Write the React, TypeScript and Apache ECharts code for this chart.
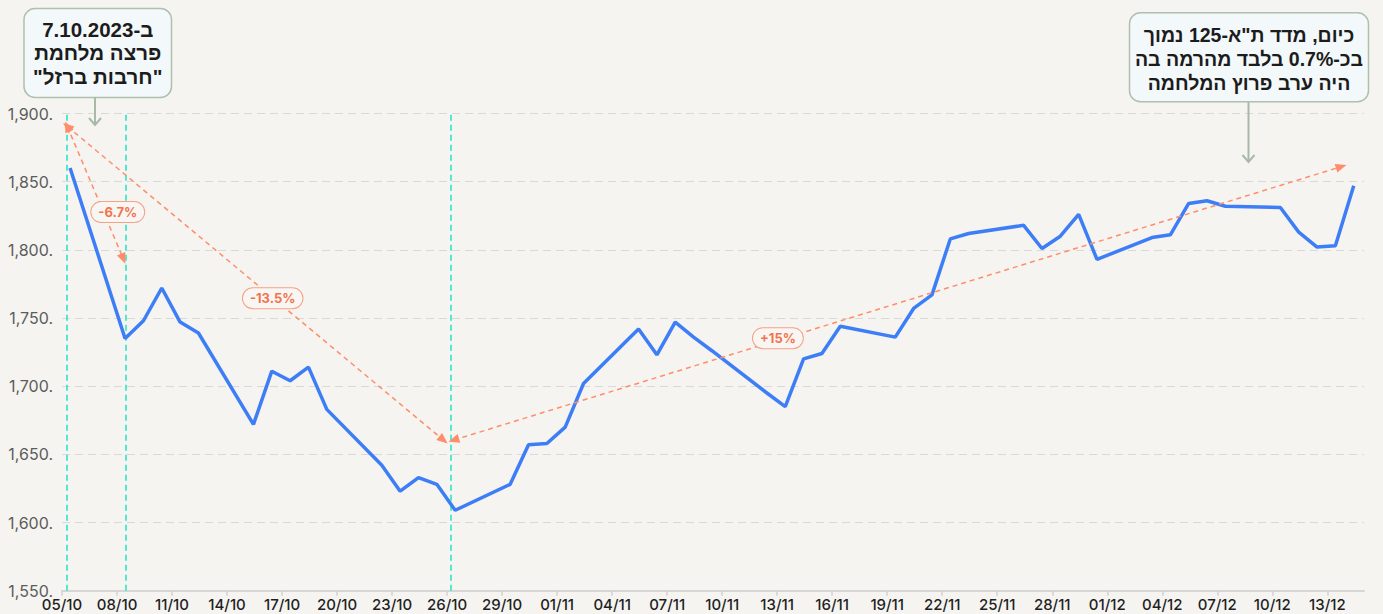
import React, { useEffect, useRef } from "react";
import * as echarts from "echarts";

// ---- data ----
const BASE_DATE = "2023-10-05";
const TRADING_DATES = [
  "2023-10-05", "2023-10-08", "2023-10-09", "2023-10-10", "2023-10-11", "2023-10-12",
  "2023-10-15", "2023-10-16", "2023-10-17", "2023-10-18", "2023-10-19",
  "2023-10-22", "2023-10-23", "2023-10-24", "2023-10-25", "2023-10-26",
  "2023-10-29", "2023-10-30", "2023-10-31", "2023-11-01", "2023-11-02",
  "2023-11-05", "2023-11-06", "2023-11-07", "2023-11-08", "2023-11-09",
  "2023-11-12", "2023-11-13", "2023-11-14", "2023-11-15", "2023-11-16",
  "2023-11-19", "2023-11-20", "2023-11-21", "2023-11-22", "2023-11-23",
  "2023-11-26", "2023-11-27", "2023-11-28", "2023-11-29", "2023-11-30",
  "2023-12-03", "2023-12-04", "2023-12-05", "2023-12-06", "2023-12-07",
  "2023-12-10", "2023-12-11", "2023-12-12", "2023-12-13", "2023-12-14",
];
const INDEX_VALUES = [
  1860, 1735, 1748, 1772, 1747, 1739,
  1672, 1711, 1704, 1714, 1683,
  1642, 1623, 1633, 1628, 1609,
  1628, 1657, 1658, 1670, 1702,
  1742, 1723, 1747, 1736, 1726,
  1695, 1685, 1720, 1724, 1744,
  1736, 1757, 1767, 1808, 1812,
  1818, 1801, 1810, 1826, 1793,
  1809, 1811, 1834, 1836, 1832,
  1831, 1813, 1802, 1803, 1847,
];
const TICK_LABELS = [
  "05/10", "08/10", "11/10", "14/10", "17/10", "20/10", "23/10", "26/10",
  "29/10", "01/11", "04/11", "07/11", "10/11", "13/11", "16/11", "19/11",
  "22/11", "25/11", "28/11", "01/12", "04/12", "07/12", "10/12", "13/12",
];
const TICK_STEP_DAYS = 3;
const POINT_TIME_OFFSET = 0.44; // fraction of a day at which points are plotted
const Y_MIN = 1550;
const Y_MAX = 1900;
const Y_STEP = 50;
const X_MAX_DAYS = 71;

// reference vertical lines (in days from base date)
const MARKER_DAYS = [0.26, 3.45, 21.2];

// change arrows: [fromDay, fromValue, toDay, toValue]
const ARROWS = [
  [0.29, 1890.5, 3.34, 1793.5],
  [0.29, 1890.5, 20.8, 1660.5],
  [21.36, 1660.5, 69.76, 1861],
];
const ARROW_LABELS = ["-6.7%", "-13.5%", "+15%"];
const ARROW_LABEL_POS = [
  [3.04, 1827.7],
  [11.49, 1764.5],
  [39.04, 1735.2],
];

const LEFT_NOTE = ["ב-7.10.2023", "פרצה מלחמת", "\"חרבות ברזל\""];
const RIGHT_NOTE = ["כיום, מדד ת\"א-125 נמוך", "בכ-0.7% בלבד מהרמה בה", "היה ערב פרוץ המלחמה"];

const DAY_MS = 86400000;
function dayIndex(d: string): number {
  return Math.round((Date.parse(d + "T00:00:00Z") - Date.parse(BASE_DATE + "T00:00:00Z")) / DAY_MS);
}

const HEB_FONT = "'Liberation Sans', Arial, 'DejaVu Sans', sans-serif";
const NUM_FONT = "Inter, 'Noto Sans', sans-serif";

export default function App() {
  const ref = useRef<HTMLDivElement | null>(null);

  useEffect(() => {
    if (!ref.current) return;
    const chart = echarts.init(ref.current, undefined, { renderer: "svg" });

    const lineData = TRADING_DATES.map((d, i) => [dayIndex(d) + POINT_TIME_OFFSET, INDEX_VALUES[i]]);
    const tickValues = TICK_LABELS.map((_, i) => i * TICK_STEP_DAYS);

    const noteBox = (
      x: number, y: number, w: number, h: number, lines: string[], fontSize: number,
      firstLineY: number, lineGap: number, px: number, py1: number, py2: number
    ) => [
      {
        type: "rect",
        shape: { x, y, width: w, height: h, r: 11 },
        style: { fill: "#f3f8fa", stroke: "#afc0ad", lineWidth: 1.5 },
        z: 100,
      },
      ...lines.map((t, i) => ({
        type: "text",
        x: x + w / 2,
        y: firstLineY + i * lineGap,
        style: {
          text: t,
          align: "center",
          verticalAlign: "middle",
          fontFamily: HEB_FONT,
          fontWeight: "bold",
          fontSize,
          lineHeight: fontSize,
          fill: "#1c1c1c",
        },
        z: 101,
      })),
      {
        type: "line",
        shape: { x1: px, y1: py1, x2: px, y2: py2 },
        style: { stroke: "#a9b9a7", lineWidth: 2 },
        z: 100,
      },
      {
        type: "polyline",
        shape: { points: [[px - 6, py2 - 7], [px, py2], [px + 6, py2 - 7]] },
        style: { stroke: "#a9b9a7", lineWidth: 2, fill: null },
        z: 100,
      },
    ];

    chart.setOption({
      animation: false,
      backgroundColor: "#f5f4f1",
      grid: { left: 62, right: 19, top: 113.5, bottom: 23.3 },
      xAxis: {
        type: "value",
        min: 0,
        max: X_MAX_DAYS,
        interval: TICK_STEP_DAYS,
        splitLine: { show: false },
        axisLine: { show: true, lineStyle: { color: "#d6d6d6", width: 2 } },
        axisTick: {
          show: true,
          customValues: tickValues,
          length: 5,
          lineStyle: { color: "#d2d2d2", width: 1.5 },
        },
        axisLabel: {
          customValues: tickValues,
          formatter: (v: number) => {
            const i = Math.round(v / TICK_STEP_DAYS);
            return TICK_LABELS[i] ?? "";
          },
          color: "#1f1f1f",
          fontFamily: NUM_FONT,
          fontWeight: 500,
          fontSize: 15,
          lineHeight: 16,
          margin: 6,
        },
      },
      yAxis: {
        type: "value",
        min: Y_MIN,
        max: Y_MAX,
        interval: Y_STEP,
        axisLine: { show: false },
        axisTick: { show: false },
        splitLine: { show: true, lineStyle: { color: "#d9d9d7", type: [8, 5], width: 1 } },
        axisLabel: {
          formatter: (v: number) => v.toLocaleString("en-US") + ".",
          color: "#5c5c5c",
          fontFamily: NUM_FONT,
          fontSize: 16,
          margin: 9,
        },
      },
      series: [
        {
          type: "line",
          data: lineData,
          showSymbol: false,
          symbol: "none",
          lineStyle: { color: "#3d7ef6", width: 3.5 },
          z: 3,
          markLine: {
            silent: true,
            symbol: ["none", "none"],
            label: { show: false },
            lineStyle: { color: "#1fe3c6", type: [6, 4], width: 1.5, opacity: 1 },
            emphasis: { disabled: true },
            data: MARKER_DAYS.map((d) => ({
              xAxis: d,
              lineStyle: { color: "#1fe3c6", type: [6, 4], width: 1.5, opacity: 1 },
            })),
            z: 1,
          },
        },
        {
          type: "line",
          data: [],
          markLine: {
            silent: true,
            symbol: ["triangle", "triangle"],
            symbolSize: [9, 11],
            label: { show: false },
            lineStyle: { color: "#ff8d69", type: [5, 4], width: 1.5 },
            data: ARROWS.map((a) => [{ coord: [a[0], a[1]] }, { coord: [a[2], a[3]] }]),
          },
          markPoint: {
            silent: true,
            symbol: "circle",
            symbolSize: 1,
            itemStyle: { color: "transparent" },
            label: {
              show: true,
              position: "inside",
              fontFamily: NUM_FONT,
              fontWeight: 700,
              fontSize: 13,
              color: "#f4734d",
              backgroundColor: "#f7f6f3",
              borderColor: "#f7a187",
              borderWidth: 1,
              borderRadius: 11,
              padding: [4, 7, 3, 7],
            },
            data: ARROW_LABELS.map((t, i) => ({
              coord: ARROW_LABEL_POS[i],
              value: t,
              label: { formatter: t },
            })),
          },
        },
      ],
      graphic: [
        ...noteBox(24, 8.5, 147.5, 89, LEFT_NOTE, 20.5, 29, 23.5, 95, 97.5, 125),
        ...noteBox(1129.5, 12.7, 239, 89, RIGHT_NOTE, 19.5, 35, 24, 1248.5, 101.7, 162),
      ],
    });

    return () => chart.dispose();
  }, []);

  return (
    <>
      <style>{"html,body{margin:0;padding:0;}"}</style>
      <div ref={ref} style={{ width: 1383, height: 614 }} />
    </>
  );
}
